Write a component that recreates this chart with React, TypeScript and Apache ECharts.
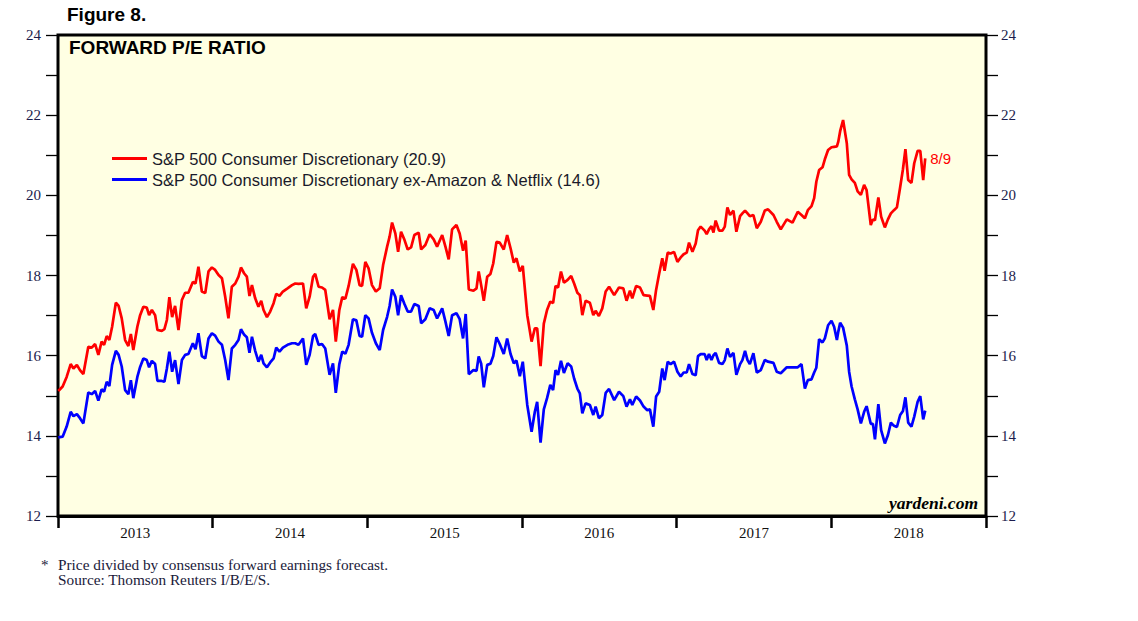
import React, { useEffect, useRef } from "react";
import * as echarts from "echarts";

// Weekly observations, decimal years (2013.0 = Jan 1, 2013)
const dates = [
  2013.002, 2013.030, 2013.056, 2013.082, 2013.100, 2013.122, 2013.142, 2013.164, 2013.196, 2013.218,
  2013.240, 2013.261, 2013.282, 2013.298, 2013.315, 2013.332, 2013.350, 2013.374, 2013.392, 2013.412,
  2013.434, 2013.455, 2013.471, 2013.487, 2013.513, 2013.531, 2013.552, 2013.574, 2013.589, 2013.607,
  2013.628, 2013.643, 2013.671, 2013.688, 2013.704, 2013.720, 2013.738, 2013.757, 2013.779, 2013.801,
  2013.822, 2013.843, 2013.872, 2013.889, 2013.908, 2013.930, 2013.952, 2013.973, 2013.995, 2014.016,
  2014.038, 2014.060, 2014.081, 2014.102, 2014.124, 2014.146, 2014.167, 2014.183, 2014.204, 2014.221,
  2014.238, 2014.254, 2014.275, 2014.296, 2014.314, 2014.329, 2014.351, 2014.372, 2014.394, 2014.411,
  2014.432, 2014.454, 2014.484, 2014.513, 2014.534, 2014.555, 2014.584, 2014.605, 2014.627, 2014.649,
  2014.663, 2014.685, 2014.707, 2014.728, 2014.756, 2014.778, 2014.796, 2014.819, 2014.838, 2014.858,
  2014.879, 2014.907, 2014.929, 2014.950, 2014.966, 2014.987, 2015.008, 2015.030, 2015.055, 2015.080,
  2015.102, 2015.128, 2015.144, 2015.160, 2015.181, 2015.199, 2015.218, 2015.240, 2015.261, 2015.283,
  2015.304, 2015.332, 2015.348, 2015.375, 2015.403, 2015.429, 2015.451, 2015.484, 2015.505, 2015.526,
  2015.548, 2015.576, 2015.597, 2015.619, 2015.636, 2015.656, 2015.686, 2015.706, 2015.720, 2015.736,
  2015.753, 2015.775, 2015.796, 2015.814, 2015.835, 2015.856, 2015.882, 2015.904, 2015.926, 2015.947,
  2015.964, 2015.986, 2016.005, 2016.034, 2016.062, 2016.083, 2016.098, 2016.120, 2016.141, 2016.162,
  2016.183, 2016.201, 2016.217, 2016.233, 2016.252, 2016.271, 2016.295, 2016.318, 2016.337, 2016.358,
  2016.374, 2016.390, 2016.411, 2016.439, 2016.461, 2016.476, 2016.497, 2016.519, 2016.541, 2016.563,
  2016.596, 2016.627, 2016.655, 2016.676, 2016.698, 2016.713, 2016.738, 2016.763, 2016.786, 2016.810,
  2016.827, 2016.849, 2016.867, 2016.887, 2016.907, 2016.922, 2016.942, 2016.961, 2016.983, 2017.005,
  2017.026, 2017.045, 2017.065, 2017.080, 2017.102, 2017.123, 2017.138, 2017.155, 2017.181, 2017.194,
  2017.209, 2017.225, 2017.238, 2017.252, 2017.274, 2017.296, 2017.311, 2017.328, 2017.345, 2017.367,
  2017.386, 2017.410, 2017.425, 2017.442, 2017.458, 2017.473, 2017.496, 2017.518, 2017.544, 2017.570,
  2017.591, 2017.626, 2017.647, 2017.673, 2017.712, 2017.749, 2017.783, 2017.807, 2017.829, 2017.848,
  2017.872, 2017.889, 2017.903, 2017.921, 2017.943, 2017.958, 2017.979, 2018.001, 2018.018, 2018.036,
  2018.045, 2018.057, 2018.076, 2018.100, 2018.115, 2018.131, 2018.152, 2018.170, 2018.191, 2018.212,
  2018.228, 2018.255, 2018.269, 2018.282, 2018.304, 2018.322, 2018.346, 2018.366, 2018.385, 2018.405,
  2018.424, 2018.445, 2018.463, 2018.479, 2018.497, 2018.518, 2018.536, 2018.558, 2018.575, 2018.594,
  2018.607,
];

// S&P 500 Consumer Discretionary forward P/E
const consumerDiscretionary = [
  15.12, 15.23, 15.47, 15.79, 15.68, 15.77, 15.64, 15.54, 16.22, 16.20,
  16.29, 16.02, 16.35, 16.27, 16.49, 16.39, 16.72, 17.32, 17.24, 16.93,
  16.39, 16.24, 16.54, 16.14, 16.72, 17.01, 17.22, 17.20, 17.01, 17.14,
  17.01, 16.64, 16.62, 16.66, 16.89, 17.46, 16.96, 17.24, 16.64, 17.39,
  17.57, 17.57, 17.84, 17.80, 18.22, 17.60, 17.56, 18.10, 18.20, 18.14,
  18.01, 17.93, 17.47, 16.93, 17.72, 17.80, 17.97, 18.20, 18.05, 17.97,
  17.49, 17.76, 17.43, 17.22, 17.37, 17.14, 16.96, 17.10, 17.31, 17.54,
  17.49, 17.60, 17.68, 17.76, 17.80, 17.79, 17.80, 17.18, 17.47, 17.97,
  18.04, 17.72, 17.70, 17.64, 16.91, 17.14, 16.35, 17.14, 17.46, 17.42,
  17.74, 18.29, 18.14, 17.76, 17.74, 18.34, 18.18, 17.76, 17.60, 17.68,
  18.26, 18.72, 18.97, 19.32, 19.05, 18.59, 19.09, 18.89, 18.65, 18.70,
  19.01, 19.07, 18.65, 18.76, 19.03, 18.90, 18.72, 19.01, 18.72, 18.40,
  19.15, 19.26, 19.05, 18.62, 18.87, 17.65, 17.62, 17.68, 18.10, 17.76,
  17.37, 17.97, 18.04, 18.30, 18.84, 18.82, 18.65, 19.01, 18.68, 18.32,
  18.43, 18.10, 18.24, 17.01, 16.35, 16.68, 16.68, 15.74, 16.80, 17.14,
  17.35, 17.31, 17.74, 17.70, 18.10, 17.82, 17.89, 17.99, 17.80, 17.57,
  17.51, 17.01, 17.37, 17.32, 17.01, 17.12, 16.99, 17.18, 17.60, 17.72,
  17.51, 17.70, 17.68, 17.37, 17.62, 17.43, 17.74, 17.70, 17.51, 17.50,
  17.49, 17.14, 17.64, 18.05, 18.43, 18.12, 18.57, 18.55, 18.59, 18.34,
  18.45, 18.53, 18.57, 18.82, 18.59, 18.80, 19.13, 19.22, 19.12, 19.03,
  19.15, 19.23, 19.07, 19.37, 19.12, 19.12, 19.22, 19.70, 19.51, 19.62,
  19.09, 19.48, 19.55, 19.62, 19.55, 19.48, 19.51, 19.18, 19.34, 19.62,
  19.65, 19.51, 19.34, 19.15, 19.40, 19.32, 19.59, 19.51, 19.43, 19.63,
  19.73, 19.93, 20.34, 20.63, 20.70, 20.90, 21.13, 21.20, 21.21, 21.22,
  21.34, 21.60, 21.88, 21.30, 20.51, 20.40, 20.31, 20.10, 20.01, 20.26,
  20.13, 19.26, 19.40, 19.38, 19.95, 19.47, 19.20, 19.40, 19.55, 19.63,
  19.70, 20.20, 20.65, 21.15, 20.38, 20.31, 20.80, 21.11, 21.11, 20.38,
  20.92,
];

// S&P 500 Consumer Discretionary ex-Amazon & Netflix forward P/E
const exAmazonNetflix = [
  13.96, 13.98, 14.23, 14.60, 14.49, 14.54, 14.44, 14.31, 15.08, 15.04,
  15.12, 14.88, 15.16, 15.10, 15.35, 15.24, 15.77, 16.12, 16.02, 15.73,
  15.14, 15.04, 15.39, 14.94, 15.47, 15.72, 15.93, 15.89, 15.71, 15.87,
  15.79, 15.37, 15.37, 15.35, 15.68, 16.10, 15.60, 15.89, 15.29, 15.89,
  16.02, 16.04, 16.31, 16.16, 16.56, 15.99, 15.93, 16.43, 16.56, 16.50,
  16.35, 16.27, 15.89, 15.39, 16.18, 16.27, 16.39, 16.66, 16.52, 16.46,
  16.07, 16.47, 16.12, 15.85, 16.02, 15.81, 15.71, 15.83, 15.93, 16.20,
  16.10, 16.20, 16.27, 16.31, 16.31, 16.27, 16.43, 15.77, 16.02, 16.49,
  16.54, 16.27, 16.29, 16.18, 15.52, 15.81, 15.07, 15.79, 16.10, 16.05,
  16.27, 16.91, 16.88, 16.49, 16.47, 17.01, 16.93, 16.57, 16.31, 16.14,
  16.64, 16.97, 17.24, 17.65, 17.47, 17.01, 17.51, 17.29, 17.10, 17.10,
  17.29, 17.24, 16.81, 16.91, 17.18, 17.14, 16.93, 17.18, 16.85, 16.49,
  17.01, 17.06, 16.91, 16.43, 17.04, 15.54, 15.64, 15.62, 15.98, 15.80,
  15.21, 15.77, 15.80, 15.99, 16.46, 16.29, 16.04, 16.43, 16.04, 15.81,
  15.88, 15.49, 15.85, 14.77, 14.10, 14.60, 14.85, 13.83, 14.66, 14.94,
  15.27, 15.14, 15.64, 15.52, 15.87, 15.57, 15.81, 15.73, 15.43, 15.18,
  15.06, 14.56, 14.81, 14.77, 14.52, 14.73, 14.44, 14.52, 15.07, 15.17,
  14.89, 15.10, 14.99, 14.73, 14.91, 14.77, 14.98, 14.88, 14.73, 14.64,
  14.66, 14.23, 14.98, 15.10, 15.68, 15.39, 15.85, 15.79, 15.85, 15.60,
  15.48, 15.58, 15.58, 15.79, 15.54, 15.51, 15.99, 16.04, 16.04, 15.89,
  16.04, 15.89, 16.01, 16.07, 15.82, 15.79, 15.89, 16.18, 15.97, 16.07,
  15.52, 15.79, 15.89, 16.12, 15.89, 15.79, 16.06, 15.58, 15.64, 15.89,
  15.85, 15.82, 15.60, 15.56, 15.71, 15.71, 15.71, 15.79, 15.18, 15.39,
  15.41, 15.58, 15.70, 16.41, 16.33, 16.43, 16.76, 16.87, 16.72, 16.39,
  16.60, 16.82, 16.70, 16.25, 15.60, 15.23, 14.91, 14.66, 14.31, 14.60,
  14.74, 14.30, 14.30, 13.91, 14.79, 14.14, 13.81, 14.02, 14.33, 14.25,
  14.22, 14.52, 14.62, 14.96, 14.33, 14.23, 14.48, 14.85, 14.99, 14.41,
  14.63,
];

const years = ["2013", "2014", "2015", "2016", "2017", "2018"];
const lastDateLabel = "8/9";

const SERIF = "'Liberation Serif', 'Times New Roman', serif";
const SANS = "'Liberation Sans', Arial, Helvetica, sans-serif";

export default function App() {
  const ref = useRef<HTMLDivElement>(null);

  useEffect(() => {
    if (!ref.current) return;
    const chart = echarts.init(ref.current, undefined, { renderer: "svg" });

    const redLast = consumerDiscretionary[consumerDiscretionary.length - 1];
    const blueLast = exAmazonNetflix[exAmazonNetflix.length - 1];
    const redName = `S&P 500 Consumer Discretionary (${redLast.toFixed(1)})`;
    const blueName = `S&P 500 Consumer Discretionary ex-Amazon & Netflix (${blueLast.toFixed(1)})`;

    const yAxisCommon = {
      type: "value",
      min: 12,
      max: 24,
      interval: 1,
      axisLine: { show: false },
      axisTick: { show: true, inside: false, length: 12, lineStyle: { color: "#000", width: 1.3 } },
      splitLine: { show: false },
    };

    chart.setOption({
      animation: false,
      backgroundColor: "#ffffff",
      grid: {
        left: 58,
        right: 152,
        top: 35,
        bottom: 105,
        show: true,
        backgroundColor: "#ffffe3",
        borderColor: "#000",
        borderWidth: 3,
        containLabel: false,
      },
      xAxis: [
        { type: "value", min: 2013, max: 2019, show: false },
        {
          type: "category",
          data: years,
          position: "bottom",
          boundaryGap: true,
          axisLine: { show: true, lineStyle: { color: "#000", width: 3 } },
          axisTick: { show: true, interval: 0, length: 12, lineStyle: { color: "#000", width: 2.5 } },
          axisLabel: { color: "#111", fontFamily: SERIF, fontSize: 15, margin: 9 },
          splitLine: { show: false },
        },
      ],
      yAxis: [
        {
          ...yAxisCommon,
          position: "left",
          axisLabel: {
            formatter: (v: number) => (v % 2 === 0 ? String(v) : ""),
            color: "#1c1c4c",
            fontFamily: SERIF,
            fontSize: 15,
            margin: 17,
          },
        },
        {
          ...yAxisCommon,
          position: "right",
          axisLabel: {
            formatter: (v: number) => (v % 2 === 0 ? String(v) : ""),
            color: "#1c1c4c",
            fontFamily: SERIF,
            fontSize: 15,
            margin: 15,
          },
        },
      ],
      legend: {
        orient: "vertical",
        left: 107,
        top: 145,
        itemWidth: 35,
        itemHeight: 3,
        itemGap: 4,
        icon: "rect",
        textStyle: { fontFamily: SANS, fontSize: 16.5, color: "#1a1a2a" },
        data: [redName, blueName],
      },
      series: [
        {
          name: blueName,
          type: "line",
          xAxisIndex: 0,
          yAxisIndex: 0,
          showSymbol: false,
          symbol: "none",
          color: "#0000ff",
          lineStyle: { color: "#0000ff", width: 2.7 },
          data: dates.map((d, i) => [d, exAmazonNetflix[i]]),
        },
        {
          name: redName,
          type: "line",
          xAxisIndex: 0,
          yAxisIndex: 0,
          showSymbol: false,
          symbol: "none",
          color: "#ff0000",
          lineStyle: { color: "#ff0000", width: 2.7 },
          data: dates.map((d, i) => [d, consumerDiscretionary[i]]),
          endLabel: {
            show: true,
            formatter: lastDateLabel,
            color: "#ff0000",
            fontFamily: SANS,
            fontSize: 15,
            distance: 5,
          },
        },
      ],
      graphic: [
        {
          type: "text",
          left: 67,
          top: 5,
          style: { text: "Figure 8.", font: `bold 19px ${SANS}`, fill: "#000" },
        },
        {
          type: "text",
          left: 69,
          top: 38,
          style: { text: "FORWARD P/E RATIO", font: `bold 19px ${SANS}`, fill: "#000" },
        },
        {
          type: "text",
          right: 1138 - 978,
          top: 494,
          style: { text: "yardeni.com", font: `italic bold 17.5px ${SERIF}`, fill: "#000" },
        },
        {
          type: "text",
          left: 41,
          top: 557,
          style: { text: "*", font: `15px ${SERIF}`, fill: "#1a1a3a" },
        },
        {
          type: "text",
          left: 58,
          top: 557,
          style: { text: "Price divided by consensus forward earnings forecast.", font: `15.3px ${SERIF}`, fill: "#1a1a3a" },
        },
        {
          type: "text",
          left: 58,
          top: 572,
          style: { text: "Source: Thomson Reuters I/B/E/S.", font: `15.3px ${SERIF}`, fill: "#1a1a3a" },
        },
      ],
    });

    return () => chart.dispose();
  }, []);

  return (
    <div
      ref={ref}
      style={{ position: "fixed", left: 0, top: 0, width: 1138, height: 621, background: "#fff" }}
    />
  );
}
